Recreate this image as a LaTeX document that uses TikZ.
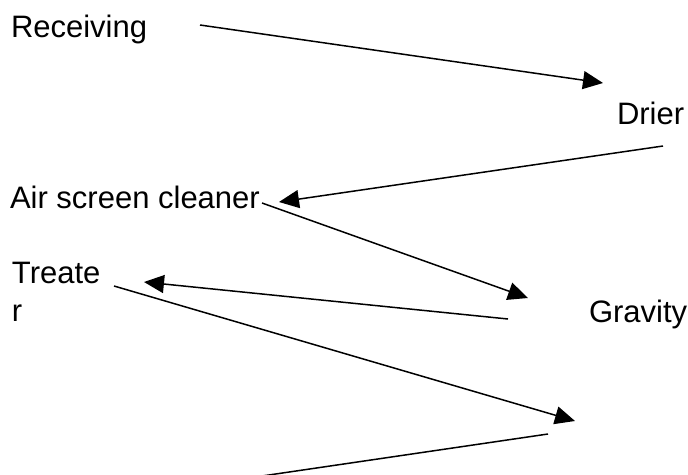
\documentclass[tikz,border=0pt]{standalone}
\usepackage{fontspec}
\setmainfont{Liberation Sans}
\usetikzlibrary{arrows.meta}
\begin{document}
\begin{tikzpicture}[x=1pt,y=-1pt,
  lbl/.style={anchor=base west,inner sep=0pt,outer sep=0pt,font=\fontsize{31}{38}\selectfont,align=left},
  flow/.style={line width=1.5pt,-{Triangle[length=20pt,width=18pt]}},
  plain/.style={line width=1.5pt}]
\useasboundingbox (0,0) rectangle (688,474);
\node[lbl] (recv) at (11,37) {Receiving};
\node[lbl] (drier) at (617,124) {Drier};
\node[lbl] (asc) at (10,208) {Air screen cleaner};
\node[lbl] (treat) at (12,321) {Treate\\r};
\node[lbl] (grav) at (589,322) {Gravity};
\coordinate (a1s) at (200,25);  \coordinate (a1e) at (603,83);
\coordinate (a2s) at (663,146); \coordinate (a2e) at (279,202);
\coordinate (a3s) at (262,203); \coordinate (a3e) at (528,298);
\coordinate (a4s) at (508,319); \coordinate (a4e) at (144,282);
\coordinate (a5s) at (114,286); \coordinate (a5e) at (575,421);
\coordinate (l6s) at (262,476); \coordinate (l6e) at (548,434);
\draw[flow] (a1s) -- (a1e);
\draw[flow] (a2s) -- (a2e);
\draw[flow] (a3s) -- (a3e);
\draw[flow] (a4s) -- (a4e);
\draw[flow] (a5s) -- (a5e);
\draw[plain] (l6s) -- (l6e);
\end{tikzpicture}
\end{document}
